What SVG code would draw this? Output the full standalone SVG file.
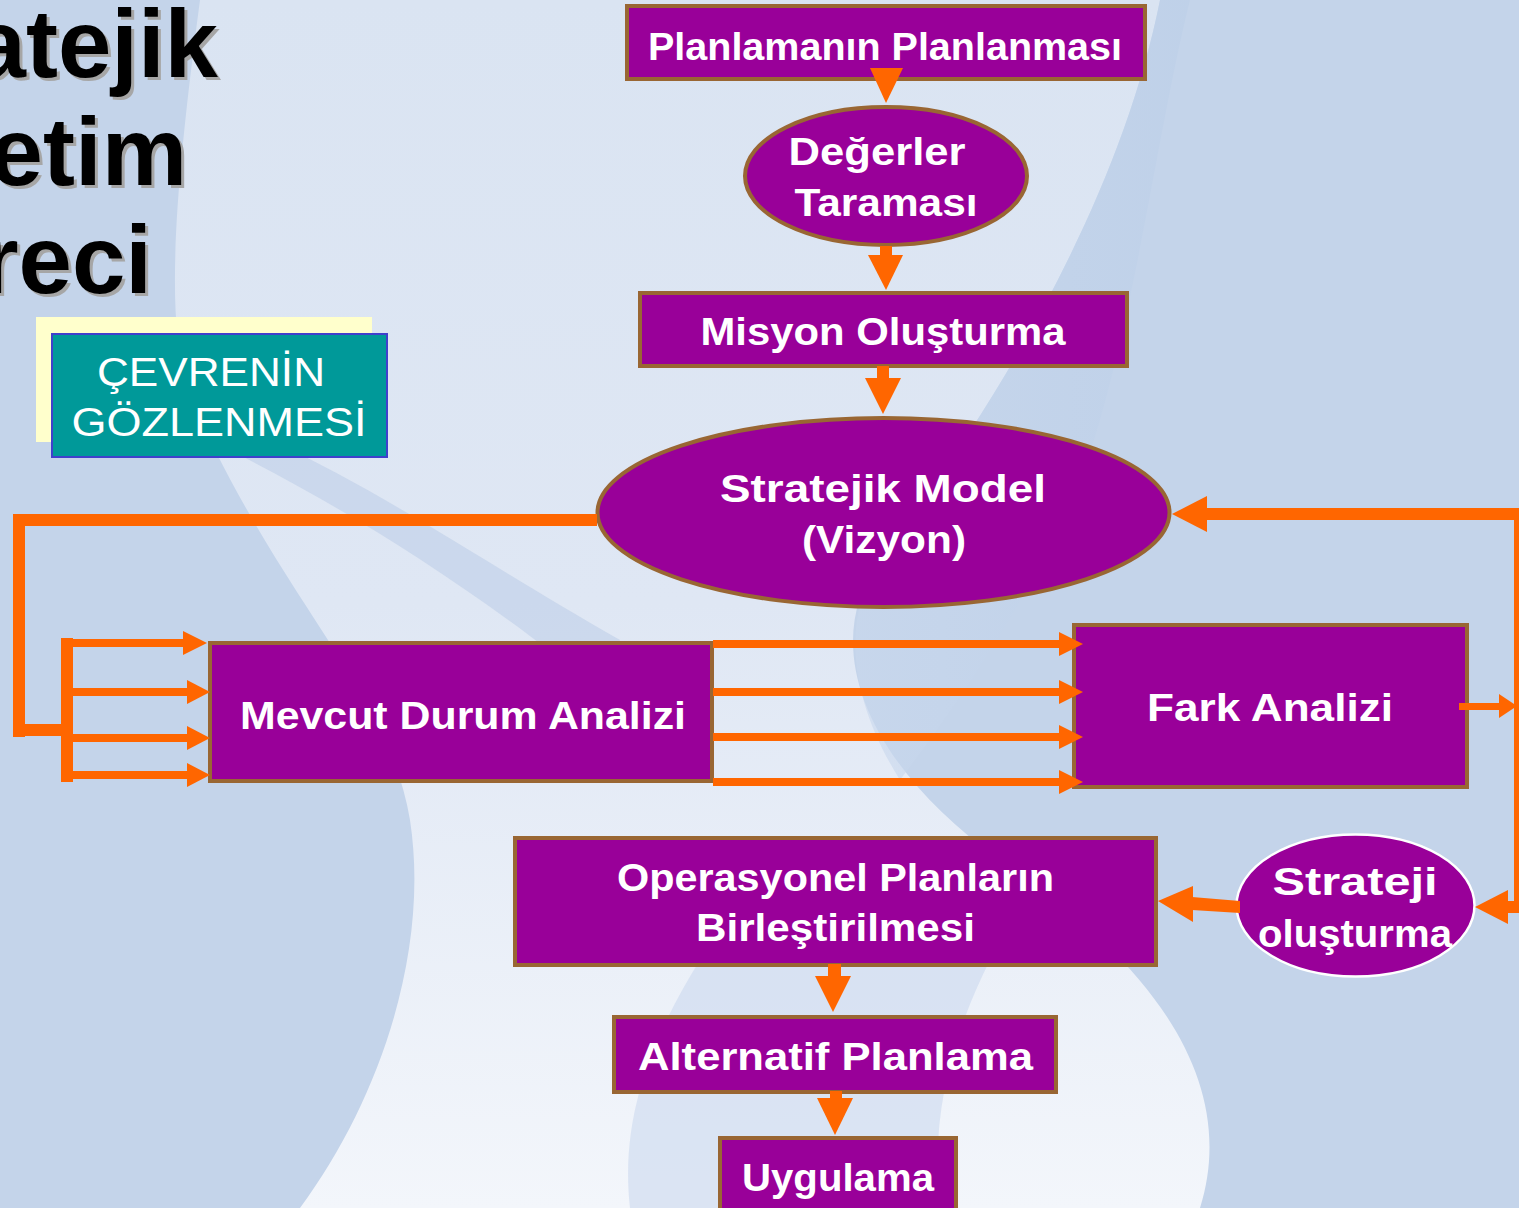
<svg xmlns="http://www.w3.org/2000/svg" width="1519" height="1208" viewBox="0 0 1519 1208">
  <defs>
    <linearGradient id="lightWave" x1="0" y1="0" x2="0" y2="1">
      <stop offset="0" stop-color="#dae4f2"/>
      <stop offset="0.5" stop-color="#dfe7f4"/>
      <stop offset="1" stop-color="#f3f6fb"/>
    </linearGradient>
    <linearGradient id="midBand" x1="0" y1="0" x2="1" y2="0">
      <stop offset="0" stop-color="#c9d8ed"/>
      <stop offset="1" stop-color="#bccfe8"/>
    </linearGradient>
    <style>
      .box { fill: #990099; stroke: #996633; stroke-width: 4; }
      .oval { fill: #990099; stroke: #996633; stroke-width: 4; }
      .lbl { fill: #ffffff; font-family: "Liberation Sans", Arial, sans-serif; font-weight: bold; font-size: 38px; text-anchor: middle; }
      .env { fill: #ffffff; font-family: "Liberation Sans", Arial, sans-serif; font-size: 40px; text-anchor: middle; }
      .title { font-family: "Liberation Sans", Arial, sans-serif; font-weight: bold; font-size: 96px; text-anchor: end; }
      .conn { fill: #ff6600; }
    </style>
  </defs>

  <!-- background -->
  <rect x="0" y="0" width="1519" height="1208" fill="#c4d4ea"/>
  <path d="M200,0 H1160 C1120,200 1000,400 880,560 C820,640 860,760 1000,860 C1150,960 1240,1080 1200,1208 H300 C380,1100 430,950 410,820 C390,700 300,620 215,450 C170,380 160,300 200,0 Z" fill="url(#lightWave)"/>
  <path d="M1000,0 H1160 C1120,200 1000,400 880,560 C840,620 850,700 900,780 C960,700 1060,560 1100,420 C1140,280 1160,120 1190,0 Z" fill="url(#midBand)" opacity="0.6"/>
  <path d="M700,960 C650,1040 620,1120 630,1208 H940 C930,1120 950,1040 990,960 Z" fill="#cbd9ee" opacity="0.6"/>
  <path d="M210,440 C330,500 450,570 600,690 L620,640 C480,560 380,490 270,440 Z" fill="#b7cae5" opacity="0.5"/>

  <!-- title (partly off the left edge) -->
  <g id="title">
    <g fill="#a6a6a6" transform="translate(3,3)">
      <text class="title" x="218" y="77">atejik</text>
      <text class="title" x="187" y="185">etim</text>
      <text class="title" x="152" y="293">reci</text>
    </g>
    <g fill="#000000">
      <text class="title" x="218" y="77">atejik</text>
      <text class="title" x="187" y="185">etim</text>
      <text class="title" x="152" y="293">reci</text>
    </g>
  </g>

  <!-- environment scan label -->
  <g id="cevre">
    <rect x="36" y="317" width="336" height="125" fill="#ffffcc"/>
    <rect x="52" y="334" width="335" height="123" fill="#009999" stroke="#4040cc" stroke-width="2"/>
    <text class="env" x="211" y="386" textLength="228" lengthAdjust="spacingAndGlyphs">ÇEVRENİN</text>
    <text class="env" x="219" y="436" textLength="295" lengthAdjust="spacingAndGlyphs">GÖZLENMESİ</text>
  </g>

  <!-- process nodes -->
  <g id="planlama">
    <rect class="box" x="627" y="6" width="518" height="73"/>
    <text class="lbl" x="885" y="60" textLength="474" lengthAdjust="spacingAndGlyphs">Planlamanın Planlanması</text>
  </g>
  <g id="degerler">
    <ellipse class="oval" cx="886" cy="176" rx="141" ry="69"/>
    <text class="lbl" x="877" y="165" textLength="177" lengthAdjust="spacingAndGlyphs">Değerler</text>
    <text class="lbl" x="886" y="216" textLength="183" lengthAdjust="spacingAndGlyphs">Taraması</text>
  </g>
  <g id="misyon">
    <rect class="box" x="640" y="293" width="487" height="73"/>
    <text class="lbl" x="883" y="345" textLength="365" lengthAdjust="spacingAndGlyphs">Misyon Oluşturma</text>
  </g>
  <g id="model">
    <ellipse class="oval" cx="883.5" cy="512.5" rx="286" ry="94.5"/>
    <text class="lbl" x="883" y="502" textLength="326" lengthAdjust="spacingAndGlyphs">Stratejik Model</text>
    <text class="lbl" x="884" y="553" textLength="164" lengthAdjust="spacingAndGlyphs">(Vizyon)</text>
  </g>
  <g id="mevcut">
    <rect class="box" x="210" y="643" width="502" height="138"/>
    <text class="lbl" x="463" y="729" textLength="446" lengthAdjust="spacingAndGlyphs">Mevcut Durum Analizi</text>
  </g>
  <g id="fark">
    <rect class="box" x="1074" y="625" width="393" height="162"/>
    <text class="lbl" x="1270" y="721" textLength="246" lengthAdjust="spacingAndGlyphs">Fark Analizi</text>
  </g>
  <g id="operasyonel">
    <rect class="box" x="515" y="838" width="641" height="127"/>
    <text class="lbl" x="835.5" y="891" textLength="437" lengthAdjust="spacingAndGlyphs">Operasyonel Planların</text>
    <text class="lbl" x="835.5" y="941" textLength="279" lengthAdjust="spacingAndGlyphs">Birleştirilmesi</text>
  </g>
  <g id="strateji">
    <ellipse cx="1355.5" cy="905.5" rx="119" ry="71" fill="#990099" stroke="#ffffff" stroke-width="2.5"/>
    <text class="lbl" x="1355" y="895" textLength="165" lengthAdjust="spacingAndGlyphs">Strateji</text>
    <text class="lbl" x="1355" y="947" textLength="194" lengthAdjust="spacingAndGlyphs">oluşturma</text>
  </g>
  <g id="alternatif">
    <rect class="box" x="614" y="1017" width="442" height="75"/>
    <text class="lbl" x="835.5" y="1070" textLength="395" lengthAdjust="spacingAndGlyphs">Alternatif Planlama</text>
  </g>
  <g id="uygulama">
    <rect class="box" x="720" y="1138" width="236" height="80"/>
    <text class="lbl" x="838" y="1191" textLength="192" lengthAdjust="spacingAndGlyphs">Uygulama</text>
  </g>

  <!-- connectors -->
  <g id="connectors" class="conn">
    <!-- main vertical chain -->
    <polygon points="870,68 903,68 886,103"/>
    <rect x="880" y="246" width="12" height="10"/>
    <polygon points="868,255 903,255 886,290"/>
    <rect x="877" y="366" width="12" height="13"/>
    <polygon points="865,378 901,378 883,414"/>

    <!-- loop from the model back to current-state analysis -->
    <rect x="13" y="514" width="584" height="12"/>
    <rect x="13" y="514" width="12" height="223"/>
    <rect x="13" y="724" width="60" height="12"/>
    <rect x="61" y="638" width="12" height="144"/>
    <rect x="67" y="639" width="118" height="8"/>
    <polygon points="183,631 207,643 183,655"/>
    <rect x="67" y="688" width="122" height="8"/>
    <polygon points="187,680 210,692 187,704"/>
    <rect x="67" y="734" width="122" height="8"/>
    <polygon points="187,726 210,738 187,750"/>
    <rect x="67" y="771" width="122" height="8"/>
    <polygon points="187,763 210,775 187,787"/>

    <!-- current state to gap analysis -->
    <rect x="713" y="640" width="348" height="8"/>
    <polygon points="1059,632 1083,644 1059,656"/>
    <rect x="713" y="688" width="348" height="8"/>
    <polygon points="1059,680 1083,692 1059,704"/>
    <rect x="713" y="733" width="348" height="8"/>
    <polygon points="1059,725 1083,737 1059,749"/>
    <rect x="713" y="778" width="348" height="8"/>
    <polygon points="1059,770 1083,782 1059,794"/>

    <!-- right-hand feedback loop -->
    <rect x="1459" y="703" width="42" height="7"/>
    <polygon points="1499,694 1517,706 1499,718"/>
    <rect x="1514" y="508" width="8" height="405"/>
    <rect x="1205" y="508" width="317" height="12"/>
    <polygon points="1207,496 1172,514 1207,532"/>
    <rect x="1505" y="901" width="17" height="12"/>
    <polygon points="1508,890 1475,907 1508,924"/>

    <!-- strategy formation to operational plans -->
    <polygon points="1192,897 1240,901 1240,913 1192,910"/>
    <polygon points="1193,886 1158,901 1193,922"/>

    <!-- lower chain -->
    <rect x="828" y="964" width="13" height="14"/>
    <polygon points="815,976 851,976 833,1012"/>
    <rect x="830" y="1091" width="12" height="9"/>
    <polygon points="817,1098 853,1098 835,1135"/>
  </g>
</svg>
